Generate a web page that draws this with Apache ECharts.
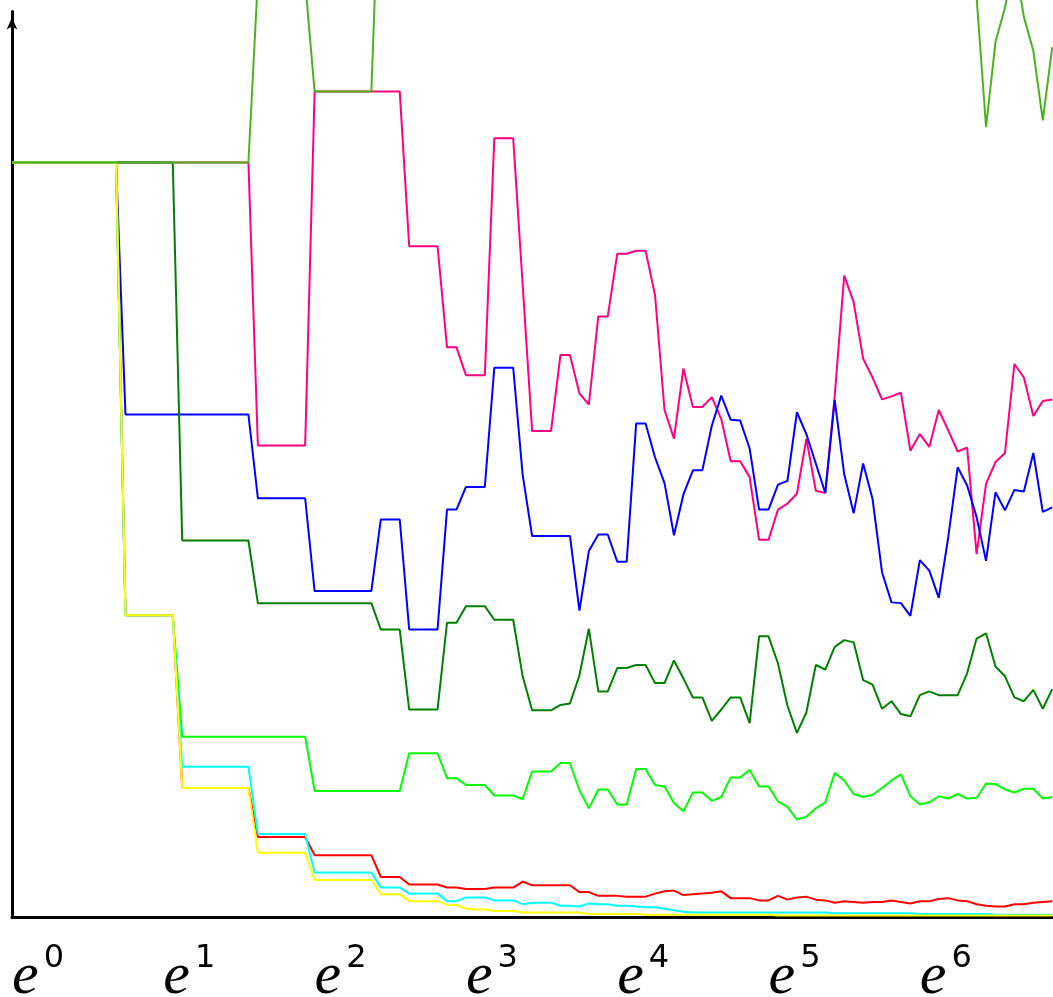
<!DOCTYPE html>
<html>
<head>
<meta charset="utf-8">
<script src="https://cdn.jsdelivr.net/npm/echarts@6/dist/echarts.min.js"></script>
<style>
html,body{margin:0;padding:0;background:#fff;}
#chart{width:1053px;height:997px;}
</style>
</head>
<body>
<div id="chart"></div>
<script>
// Samples are taken at x = e^(k/16), k = 0..110 ; values normalised so the start is 100
const LN_PER_SAMPLE = 1 / 16;
const xTickExponents = [0, 1, 2, 3, 4, 5, 6];

const olive = [
 100,100,100,100,100,100,100,100,100,100,
 100,100,100,100,100,100,100,100,100,100,
 100,100,100,100,100,100,124.3,125,126,125,
 125,123.9,109.4,109.4,109.4,109.4,109.4,109.4,109.4,144,
 150,152,148,155,150,146,153,158,150,147,
 152,149,155,150,146,152,157,150,148,153,
 150,147,152,156,149,151,148,154,150,147,
 152,149,155,151,148,153,150,146,152,149,
 154,150,147,151,148,153,150,146,152,149,
 151,148,153,147,150,145,149,143,146,140,
 138,134.7,121.9,104.7,116.0,120.5,127.0,119.3,114.8,105.6,115.3
];
const pink = [
 100,100,100,100,100,100,100,100,100,100,
 100,100,100,100,100,100,100,100,100,100,
 100,100,100,100,100,100,62.5,62.5,62.5,62.5,
 62.5,62.5,109.4,109.4,109.4,109.4,109.4,109.4,109.4,109.4,
 109.4,109.4,88.9,88.9,88.9,88.9,75.5,75.5,71.8,71.8,
 71.8,103.2,103.2,103.2,83.8,64.4,64.4,64.4,74.5,74.5,
 69.4,67.9,79.6,79.6,87.9,87.9,88.3,88.3,82.4,67.2,
 63.4,72.7,67.6,67.6,68.9,66.0,60.4,60.4,58.3,50.0,
 50.0,54.0,54.8,56.1,63.4,56.5,56.2,69.1,85.0,81.5,
 74.0,71.5,68.6,69.0,69.5,61.8,64.0,62.3,67.2,64.5,
 61.7,62.2,48.1,57.4,60.3,61.5,73.3,71.5,66.4,68.4,68.6
];
const blue = [
 100,100,100,100,100,100,100,100,100,100,
 100,100,66.6,66.6,66.6,66.6,66.6,66.6,66.6,66.6,
 66.6,66.6,66.6,66.6,66.6,66.6,55.5,55.5,55.5,55.5,
 55.5,55.5,43.2,43.2,43.2,43.2,43.2,43.2,43.2,52.7,
 52.7,52.7,38.1,38.1,38.1,38.1,54.0,54.0,57.0,57.0,
 57.0,72.8,72.8,72.8,58.6,50.5,50.5,50.5,50.5,50.5,
 40.6,48.5,50.7,50.7,47.1,47.1,65.4,65.4,60.9,57.5,
 50.6,56.0,59.2,59.2,65.1,69.1,65.9,65.8,62.1,54.0,
 54.0,57.3,57.8,66.9,64.0,60.1,56.2,68.5,58.7,53.5,
 60.1,55.4,45.7,41.7,41.6,39.9,47.3,45.9,42.3,50.3,
 59.6,57.2,53.0,47.2,56.3,53.9,56.6,56.4,61.5,53.7,54.3
];
const darkGreen = [
 100,100,100,100,100,100,100,100,100,100,
 100,100,100,100,100,100,100,100,49.9,49.9,
 49.9,49.9,49.9,49.9,49.9,49.9,41.6,41.6,41.6,41.6,
 41.6,41.6,41.6,41.6,41.6,41.6,41.6,41.6,41.6,38.1,
 38.1,38.1,27.5,27.5,27.5,27.5,39.0,39.0,41.2,41.2,
 41.2,39.4,39.4,39.4,31.9,27.4,27.4,27.4,28.1,28.3,
 32.0,38.2,29.9,29.9,33.0,33.0,33.4,33.4,31.0,31.0,
 34.0,31.6,29.1,29.1,26.0,27.5,29.1,29.1,25.7,37.2,
 37.2,33.6,28.0,24.4,27.1,33.4,32.8,35.8,36.7,36.4,
 31.4,30.8,27.6,28.6,26.9,26.6,29.4,29.9,29.4,29.4,
 29.4,32.3,36.9,37.6,33.2,31.9,29.1,28.6,30.1,27.6,30.2
];
const lime = [
 100,100,100,100,100,100,100,100,100,100,
 100,100,40,40,40,40,40,40,23.9,23.9,
 23.9,23.9,23.9,23.9,23.9,23.9,23.9,23.9,23.9,23.9,
 23.9,23.9,16.7,16.7,16.7,16.7,16.7,16.7,16.7,16.7,
 16.7,16.7,21.7,21.7,21.7,21.7,18.4,18.4,17.5,17.5,
 17.5,16.1,16.1,16.1,15.6,19.3,19.3,19.3,20.4,20.4,
 16.8,14.4,16.9,16.9,14.9,14.9,19.6,19.6,17.5,17.3,
 15.1,14.0,16.5,16.5,15.4,15.9,18.5,18.5,19.5,17.3,
 17.3,15.3,14.6,12.9,13.3,14.4,15.2,19.1,18.1,16.3,
 15.9,16.2,17.1,18.1,18.9,16.0,14.9,15.2,16.0,15.7,
 16.3,15.7,15.8,17.7,17.6,16.9,16.5,17.0,17.0,15.7,15.9
];
const red = [
 100,100,100,100,100,100,100,100,100,100,
 100,100,40,40,40,40,40,40,17.1,17.1,
 17.1,17.1,17.1,17.1,17.1,17.1,10.6,10.6,10.6,10.6,
 10.6,10.6,8.2,8.2,8.2,8.2,8.2,8.2,8.2,5.3,
 5.3,5.3,4.3,4.3,4.3,4.3,3.9,3.9,3.7,3.7,
 3.7,3.9,3.9,3.9,4.7,4.2,4.2,4.2,4.2,4.2,
 3.3,3.3,2.8,2.8,2.8,2.7,2.7,2.7,3.1,3.4,
 3.5,2.9,3.0,3.1,3.2,3.4,2.5,2.5,2.5,2.2,
 2.2,2.8,2.3,2.6,2.7,2.3,2.2,1.9,2.1,2.0,
 1.9,2.0,2.0,2.2,2.0,1.8,2.1,2.1,2.4,2.5,
 2.2,2.1,1.7,1.5,1.4,1.4,1.7,1.7,1.9,2.0,2.1
];
const cyan = [
 100,100,100,100,100,100,100,100,100,100,
 100,100,40,40,40,40,40,40,19.9,19.9,
 19.9,19.9,19.9,19.9,19.9,19.9,11.0,11.0,11.0,11.0,
 11.0,11.0,5.9,5.9,5.9,5.9,5.9,5.9,5.9,3.9,
 3.9,3.9,3.1,3.1,3.1,3.1,2.1,2.1,2.6,2.6,
 2.6,2.2,2.2,2.2,1.7,1.9,1.9,1.9,1.5,1.5,
 1.4,1.8,1.7,1.7,1.5,1.5,1.4,1.3,1.3,1.1,
 0.9,0.7,0.6,0.6,0.6,0.6,0.6,0.6,0.6,0.6,
 0.6,0.6,0.6,0.6,0.6,0.6,0.6,0.5,0.5,0.5,
 0.5,0.5,0.5,0.5,0.5,0.5,0.4,0.4,0.4,0.4,
 0.4,0.4,0.4,0.4,0.3,0.3,0.3,0.3,0.3,0.3,0.3
];
const yellow = [
 100,100,100,100,100,100,100,100,100,100,
 100,100,40,40,40,40,40,40,17.1,17.1,
 17.1,17.1,17.1,17.1,17.1,17.1,8.5,8.5,8.5,8.5,
 8.5,8.5,4.9,4.9,4.9,4.9,4.9,4.9,4.9,3.0,
 3.0,3.0,2.1,2.1,2.1,2.1,1.6,1.6,1.1,1.0,
 1.0,0.8,0.8,0.8,0.6,0.6,0.6,0.6,0.6,0.6,
 0.6,0.4,0.4,0.4,0.4,0.4,0.4,0.3,0.3,0.3,
 0.3,0.3,0.3,0.3,0.3,0.3,0.3,0.3,0.3,0.3,
 0.3,0.2,0.2,0.2,0.2,0.2,0.2,0.2,0.2,0.2,
 0.2,0.2,0.2,0.2,0.2,0.2,0.2,0.2,0.2,0.2,
 0.2,0.2,0.2,0.2,0.2,0.2,0.2,0.2,0.2,0.2,0.2
];

const seriesDefs = [
  {name: 'pink', data: pink, color: '#ff0080'},
  {name: 'blue', data: blue, color: '#0000ff'},
  {name: 'darkGreen', data: darkGreen, color: '#008000'},
  {name: 'lime', data: lime, color: '#00ff00'},
  {name: 'red', data: red, color: '#ff0000'},
  {name: 'cyan', data: cyan, color: '#00ffff'},
  {name: 'yellow', data: yellow, color: '#ffff00'},
  {name: 'olive', data: olive, color: '#4cb320'}
];

const chart = echarts.init(document.getElementById('chart'), null, {renderer: 'canvas'});
chart.setOption({
  animation: false,
  backgroundColor: '#ffffff',
  grid: {left: 12, right: 0, top: 11.6, bottom: 80, containLabel: false, outerBoundsMode: 'none'},
  xAxis: {
    type: 'value',
    min: 0,
    max: 6.88,
    interval: 1,
    axisLine: {show: true, onZero: false, lineStyle: {color: '#000', width: 3}},
    axisTick: {show: false},
    splitLine: {show: false},
    axisLabel: {
      show: true,
      showMaxLabel: true,
      hideOverlap: false,
      margin: 26,
      align: 'left',
      verticalAlign: 'top',
      customValues: xTickExponents,
      formatter: function (v) { return '{e|e}{s|' + Math.round(v) + '}'; },
      rich: {
        e: {fontFamily: 'Liberation Serif', fontStyle: 'italic', fontSize: 60, lineHeight: 64, verticalAlign: 'bottom', color: '#000'},
        s: {fontFamily: 'DejaVu Sans', fontSize: 32, lineHeight: 48, verticalAlign: 'top', color: '#000', padding: [0, 0, 0, 5]}
      }
    }
  },
  yAxis: {
    type: 'value',
    min: 0,
    max: 120,
    axisLine: {show: true, onZero: false, lineStyle: {color: '#000', width: 3},
      symbol: ['none', 'arrow'], symbolSize: [8, 12], symbolOffset: [0, -6]},
    axisTick: {show: false},
    axisLabel: {show: false},
    splitLine: {show: false}
  },
  series: seriesDefs.map(function (d) {
    return {
      name: d.name,
      type: 'line',
      showSymbol: false,
      clip: false,
      silent: true,
      lineStyle: {color: d.color, width: 2},
      itemStyle: {color: d.color},
      data: d.data.map(function (v, k) { return [k * LN_PER_SAMPLE, v]; })
    };
  })
});
</script>
</body>
</html>
